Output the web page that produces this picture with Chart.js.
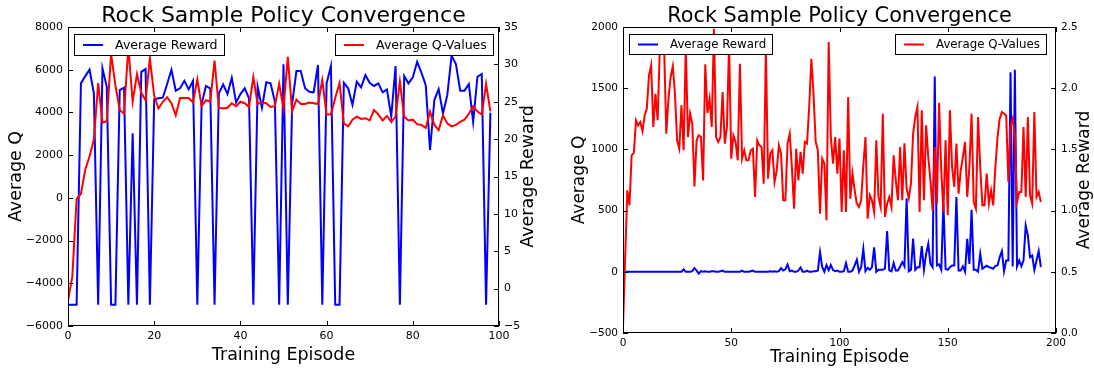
<!DOCTYPE html>
<html>
<head>
<meta charset="utf-8">
<script src="https://cdn.jsdelivr.net/npm/chart.js@4"></script>
<style>
  html, body { margin: 0; padding: 0; background: #fff; }
  #wrap { position: relative; width: 1094px; height: 368px; }
  .panel { position: absolute; top: 0; width: 547px; height: 368px; }
</style>
</head>
<body>
<div id="wrap">
  <div class="panel" style="left:0"><canvas id="chartA" width="547" height="368"></canvas></div>
  <div class="panel" style="left:547px"><canvas id="chartB" width="547" height="368"></canvas></div>
</div>
<script>
// ---- left panel: 99 training episodes ----
const leftTicksX = [0, 20, 40, 60, 80, 100];
const leftTicksQ = [-6000, -4000, -2000, 0, 2000, 4000, 6000, 8000];
const leftTicksR = [-5, 0, 5, 10, 15, 20, 25, 30, 35];

// blue line, read on the left axis
const leftReward = [
  -5000, -5000, -5000, 5360, 5700, 6000, 4890, -5000, 6060, 5200,
  -5000, -5000, 5050, 5160, -5000, 3020, -5000, 5900, 6030, -5000,
  4610, 4660, 4690, 5330, 6000, 5020, 5130, 5480, 5080, 5480,
  -5000, 4400, 5240, 5130, -5000, 4890, 5310, 4860, 5620, 4470,
  4860, 5130, 4660, -5000, 5200, 4220, 5410, 5360, 4500, -5000,
  6250, -5000, 4400, 5940, 5940, 5130, 4970, 4940, 6220, -5000,
  5360, 6170, -5000, -5000, 5390, 5130, 4350, 5440, 5170, 5750,
  5390, 5240, 5360, 4940, 5080, 3800, 6170, -5000, 5700, 5360,
  5640, 6370, 5860, 5280, 2240, 4580, 5090, 3950, 4810, 6650,
  6270, 5020, 5020, 5330, 3560, 5670, 5800, -5000, 3990
];

// red line, read on the right axis
const leftQValues = [
  -1.6, 1.6, 12.0, 12.7, 15.9, 17.7, 19.9, 27.5, 22.2, 22.4,
  31.4, 27.2, 23.9, 23.4, 32.3, 25.0, 28.7, 26.2, 25.2, 30.8,
  25.8, 24.1, 25.0, 25.6, 24.8, 23.2, 25.5, 25.5, 25.5, 24.9,
  28.0, 24.4, 25.2, 25.0, 30.5, 24.2, 24.1, 24.2, 24.8, 24.4,
  25.0, 24.8, 24.3, 28.3, 24.7, 24.9, 24.8, 24.3, 24.4, 27.4,
  24.1, 31.0, 23.7, 25.3, 24.7, 24.7, 24.9, 24.8, 24.7, 27.9,
  23.3, 23.3, 25.5, 27.5, 22.1, 21.7, 22.6, 23.0, 22.7, 22.8,
  22.5, 23.9, 23.3, 22.5, 23.1, 22.3, 23.0, 27.7, 23.0, 22.5,
  22.6, 22.0, 21.9, 21.5, 23.7, 21.9, 21.2, 23.2, 22.1, 21.7,
  21.9, 22.3, 22.6, 23.4, 24.4, 23.7, 23.3, 27.4, 23.7
];

// ---- right panel: 194 training episodes ----
const rightTicksX = [0, 50, 100, 150, 200];
const rightTicksQ = [-500, 0, 500, 1000, 1500, 2000];
const rightTicksR = [0, 0.5, 1, 1.5, 2, 2.5];

// blue line, read on the left axis
const rightReward = [
  0, 0, 0, 0, 0, 0, 0, 0, 0, 0,
  0, 0, 0, 0, 0, 0, 0, 0, 0, 0,
  0, 0, 0, 0, 0, 0, 0, 0, 20, 0,
  0, 0, 5, 30, 10, -15, 5, 0, 5, 0,
  0, 5, 5, 0, 0, 5, 10, 0, 0, 0,
  0, 0, 0, 0, 0, 10, 0, 0, 0, 5,
  10, 0, 0, 0, 0, 0, 0, 0, 5, 0,
  5, 0, 5, 30, 10, 20, 60, 5, 10, 0,
  0, 10, 35, 0, 0, 10, 0, 0, 5, 5,
  10, 160, 40, 0, 55, 13, 55, 14, 5, 10,
  0, 0, 5, 71, 0, 0, 11, 52, 98, 0,
  38, 188, 5, 33, 16, 38, 200, 0, 16, 16,
  16, 25, 332, 11, 3, 71, 11, 11, 44, 79,
  44, 600, 3, 16, 272, 16, 38, 38, 210, 16,
  147, 229, 65, 38, 1596, 52, 60, 16, 560, 22,
  16, 38, 52, 52, 610, 11, 11, 44, 0, 270,
  65, 506, 16, 16, 0, 147, 25, 38, 49, 38,
  33, 25, 49, 52, 120, 169, 3, 93, 93, 1631,
  44, 1650, 44, 93, 44, 93, 378, 297, 120, 133,
  16, 93, 169, 38
];

// red line, read on the right axis
const rightQValues = [
  0.05, 0.62, 1.166, 1.043, 1.452, 1.471, 1.738, 1.697, 1.724, 1.65,
  1.778, 1.833, 2.105, 2.187, 1.683, 1.955, 1.738, 2.323, 2.315, 2.328,
  1.629, 1.915, 2.092, 2.179, 1.955, 1.574, 1.506, 1.86, 1.493, 2.342,
  1.601, 1.792, 1.71, 1.198, 1.574, 1.615, 1.601, 1.247, 2.195, 1.797,
  1.915, 1.683, 2.486, 1.601, 1.56, 1.601, 1.969, 1.547, 1.683, 2.364,
  1.424, 1.615, 1.561, 1.411, 2.2, 1.424, 1.493, 1.411, 1.411, 1.493,
  1.506, 1.111, 1.574, 1.533, 1.52, 1.22, 2.32, 1.261, 1.465, 1.493,
  1.234, 1.329, 1.533, 1.465, 1.084, 1.084, 1.547, 1.629, 1.356, 1.016,
  1.506, 1.247, 1.479, 1.302, 1.561, 1.547, 1.846, 2.241, 1.955, 1.561,
  1.493, 0.975, 1.424, 1.384, 0.921, 2.377, 1.601, 1.384, 1.601, 1.302,
  1.588, 0.989, 1.493, 0.989, 1.928, 1.098, 1.302, 1.166, 1.057, 1.03,
  1.084, 1.37, 1.601, 0.934, 1.125, 1.084, 0.989, 1.574, 1.111, 1.03,
  1.792, 0.948, 1.057, 1.111, 1.03, 1.452, 1.247, 1.084, 1.52, 1.084,
  1.55, 1.179, 1.1, 1.22, 1.629, 1.765, 1.846, 0.989, 1.819, 1.084,
  1.697, 1.438, 1.247, 1.002, 1.52, 1.057, 1.88, 1.329, 0.989, 1.574,
  0.962, 1.819, 1.356, 1.193, 1.547, 1.138, 1.329, 1.438, 1.561, 1.111,
  1.356, 1.792, 1.07, 1.016, 1.765, 1.356, 1.043, 1.043, 1.302, 1.057,
  1.166, 1.043, 1.356, 1.601, 1.751, 1.806, 1.792, 1.778, 1.234, 1.683,
  1.751, 1.629, 1.07, 1.152, 1.152, 1.683, 1.111, 1.765, 1.125, 1.057,
  1.806, 1.111, 1.152, 1.07
];

Chart.defaults.font.family = '"DejaVu Sans", sans-serif';
Chart.defaults.color = '#000';

function toPoints(values) {
  return values.map((v, i) => ({ x: i, y: v }));
}

function minusSign(v) {
  return String(v).replace('-', '\u2212');
}

// spines plus the small inward tick marks
const framePlugin = {
  id: 'frame',
  afterDatasetsDraw(chart) {
    const { ctx, chartArea: a, scales } = chart;
    ctx.save();
    ctx.strokeStyle = '#000';
    ctx.lineWidth = 1;
    ctx.strokeRect(a.left + 0.5, a.top + 0.5, a.right - a.left - 1, a.bottom - a.top - 1);
    ctx.beginPath();
    scales.x.ticks.forEach(t => {
      const px = Math.round(scales.x.getPixelForValue(t.value)) + 0.5;
      ctx.moveTo(px, a.bottom); ctx.lineTo(px, a.bottom - 5);
      ctx.moveTo(px, a.top); ctx.lineTo(px, a.top + 5);
    });
    scales.y.ticks.forEach(t => {
      const py = Math.round(scales.y.getPixelForValue(t.value)) + 0.5;
      ctx.moveTo(a.left, py); ctx.lineTo(a.left + 5, py);
    });
    scales.y1.ticks.forEach(t => {
      const py = Math.round(scales.y1.getPixelForValue(t.value)) + 0.5;
      ctx.moveTo(a.right, py); ctx.lineTo(a.right - 5, py);
    });
    ctx.stroke();
    ctx.restore();
  }
};

// title, right-hand axis title (reads bottom to top) and the two legend boxes
const decoPlugin = {
  id: 'deco',
  afterDraw(chart, args, opts) {
    const { ctx, chartArea: a } = chart;
    ctx.save();
    ctx.fillStyle = '#000';
    ctx.font = opts.titleSize + 'px "DejaVu Sans"';
    ctx.textAlign = 'center';
    ctx.textBaseline = 'alphabetic';
    ctx.fillText(opts.title, (a.left + a.right) / 2, opts.titleY);

    ctx.save();
    ctx.font = opts.labelSize + 'px "DejaVu Sans"';
    ctx.textBaseline = 'middle';
    ctx.translate(opts.rightTitleX, (a.top + a.bottom) / 2);
    ctx.rotate(-Math.PI / 2);
    ctx.fillText(opts.rightTitle, 0, 0);
    ctx.restore();

    opts.legends.forEach(lg => {
      const ds = chart.data.datasets[lg.dataset];
      ctx.font = opts.legendSize + 'px "DejaVu Sans"';
      const tw = ctx.measureText(ds.label).width;
      const w = Math.round(9 + 20 + 12 + tw + 6);
      const h = opts.legendH;
      const x = lg.side === 'left' ? a.left + lg.inset : a.right - lg.inset - w;
      const y = a.top + 7;
      ctx.fillStyle = '#fff';
      ctx.fillRect(x, y, w, h);
      ctx.strokeStyle = '#000';
      ctx.lineWidth = 1;
      ctx.strokeRect(x + 0.5, y + 0.5, w, h);
      ctx.strokeStyle = ds.borderColor;
      ctx.lineWidth = 2;
      ctx.beginPath();
      ctx.moveTo(x + 9, y + h / 2 + 0.5);
      ctx.lineTo(x + 29, y + h / 2 + 0.5);
      ctx.stroke();
      ctx.fillStyle = '#000';
      ctx.textAlign = 'left';
      ctx.textBaseline = 'middle';
      ctx.fillText(ds.label, x + 41, y + h / 2 + 1);
    });
    ctx.restore();
  }
};

function makeChart(id, s) {
  const ctx = document.getElementById(id).getContext('2d');
  const tickFont = { size: s.tickSize };
  const titleFont = { size: s.labelSize };

  const config = {
    type: 'line',
    data: {
      datasets: [
        {
          label: 'Average Reward',
          data: toPoints(s.blue),
          borderColor: '#0000ff',
          borderWidth: 2,
          pointRadius: 0,
          tension: 0,
          yAxisID: 'y',
          order: 2
        },
        {
          label: 'Average Q-Values',
          data: toPoints(s.red),
          borderColor: '#ff0000',
          borderWidth: 2,
          pointRadius: 0,
          tension: 0,
          yAxisID: 'y1',
          order: 1
        }
      ]
    },
    options: {
      responsive: false,
      animation: false,
      layout: { padding: { top: 27 } },
      plugins: {
        legend: { display: false },
        tooltip: { enabled: false },
        deco: {
          title: 'Rock Sample Policy Convergence',
          titleSize: s.titleSize,
          titleY: 22,
          labelSize: s.labelSize,
          rightTitle: 'Average Reward',
          rightTitleX: s.rightTitleX,
          legendSize: s.legendSize,
          legendH: s.legendH,
          legends: [
            { dataset: 0, side: 'left', inset: 6 },
            { dataset: 1, side: 'right', inset: s.rightInset }
          ]
        }
      },
      scales: {
        x: {
          type: 'linear',
          min: s.ticksX[0],
          max: s.ticksX[s.ticksX.length - 1],
          afterBuildTicks: sc => { sc.ticks = s.ticksX.map(v => ({ value: v })); },
          afterFit: sc => { sc.height = s.xHeight; },
          grid: { display: false, drawTicks: false },
          border: { display: false },
          ticks: { font: tickFont, padding: 4, maxRotation: 0, autoSkip: false, callback: v => String(v) },
          title: { display: true, text: 'Training Episode', font: titleFont, padding: { top: 0, bottom: s.xTitlePad } }
        },
        y: {
          type: 'linear',
          position: 'left',
          min: s.ticksQ[0],
          max: s.ticksQ[s.ticksQ.length - 1],
          afterBuildTicks: sc => { sc.ticks = s.ticksQ.map(v => ({ value: v })); },
          afterFit: sc => { sc.width = s.leftWidth; },
          grid: { display: false, drawTicks: false },
          border: { display: false },
          ticks: { font: tickFont, padding: 5, autoSkip: false, callback: v => minusSign(v) },
          title: { display: true, text: 'Average Q', font: titleFont, padding: { top: s.yTitlePad, bottom: 0 } }
        },
        y1: {
          type: 'linear',
          position: 'right',
          min: s.ticksR[0],
          max: s.ticksR[s.ticksR.length - 1],
          afterBuildTicks: sc => { sc.ticks = s.ticksR.map(v => ({ value: v })); },
          afterFit: sc => { sc.width = s.rightWidth; },
          grid: { display: false, drawTicks: false },
          border: { display: false },
          ticks: { font: tickFont, padding: 5, autoSkip: false, callback: s.rightFormat },
          title: { display: false }
        }
      }
    },
    plugins: [framePlugin, decoPlugin]
  };

  return new Chart(ctx, config);
}

makeChart('chartA', {
  blue: leftReward, red: leftQValues,
  ticksX: leftTicksX, ticksQ: leftTicksQ, ticksR: leftTicksR,
  rightFormat: v => minusSign(v),
  leftWidth: 68, rightWidth: 48, xHeight: 42,
  tickSize: 11, labelSize: 17.5, titleSize: 22, legendSize: 12.6, legendH: 21,
  rightInset: 6, xTitlePad: 2, yTitlePad: 6, rightTitleX: 528
});

makeChart('chartB', {
  blue: rightReward, red: rightQValues,
  ticksX: rightTicksX, ticksQ: rightTicksQ, ticksR: rightTicksR,
  rightFormat: v => v.toFixed(1),
  leftWidth: 76, rightWidth: 38, xHeight: 35,
  tickSize: 10.5, labelSize: 17, titleSize: 20.8, legendSize: 11.8, legendH: 20,
  rightInset: 10, xTitlePad: 0, yTitlePad: 22, rightTitleX: 538
});
</script>
</body>
</html>
